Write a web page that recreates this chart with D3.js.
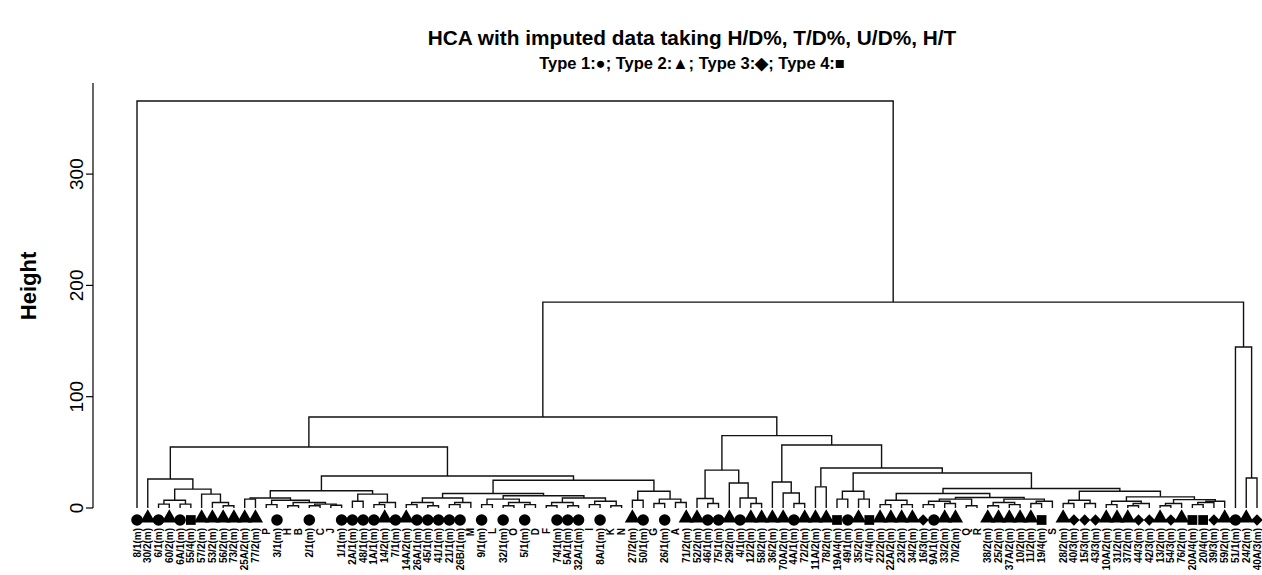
<!DOCTYPE html>
<html>
<head>
<meta charset="utf-8">
<script src="https://cdn.jsdelivr.net/npm/d3@7"></script>
<style>
  body { margin: 0; background: #fff; }
  svg { display: block; }
</style>
</head>
<body>
<svg></svg>
<script>
// leaf labels, left to right
const labels = [
  "8/1(m)", "30/2(m)", "6/1(m)", "60/2(m)", "6A/1(m)", "55/4(m)", "57/2(m)", "53/2(m)", "56/2(m)", "73/2(m)",
  "25A/2(m)", "77/2(m)", "P", "3/1(m)", "H", "B", "2/1(m)", "C", "J", "1/1(m)",
  "2A/1(m)", "48/1(m)", "1A/1(m)", "14/2(m)", "7/1(m)", "14A/2(m)", "26A/1(m)", "45/1(m)", "41/1(m)", "21/1(m)",
  "26B/1(m)", "M", "9/1(m)", "L", "32/1(m)", "O", "5/1(m)", "D", "F", "74/1(m)",
  "5A/1(m)", "32A/1(m)", "I", "8A/1(m)", "K", "N", "27/2(m)", "50/1(m)", "G", "26/1(m)",
  "A", "71/2(m)", "52/2(m)", "46/1(m)", "75/1(m)", "29/2(m)", "4/1(m)", "12/2(m)", "58/2(m)", "36/2(m)",
  "70A/2(m)", "4A/1(m)", "72/2(m)", "11A/2(m)", "78/2(m)", "19A/4(m)", "49/1(m)", "35/2(m)", "47/4(m)", "22/2(m)",
  "22A/2(m)", "23/2(m)", "34/2(m)", "16/3(m)", "9A/1(m)", "33/2(m)", "70/2(m)", "Q", "R", "38/2(m)",
  "25/2(m)", "37A/2(m)", "10/2(m)", "11/2(m)", "19/4(m)", "S", "28/2(m)", "40/3(m)", "15/3(m)", "43/3(m)",
  "10A/2(m)", "31/2(m)", "37/2(m)", "44/3(m)", "42/3(m)", "13/2(m)", "54/3(m)", "76/2(m)", "20A/4(m)", "20/4(m)",
  "39/3(m)", "59/2(m)", "51/1(m)", "24/2(m)", "40A/3(m)"
];

// merges: [left, right, height]; numbers are leaf positions (1-based)
const clA = [2, [[[3, 4, 3.5], [5, 6, 3.5], 7], [7, [8, [9, 10, 2], 5], 12.5], 17], 26];
const clB = [
  [[11, 12, 8], [[13, 14, 3], [[15, 16, 2], [[17, 18, 2], [19, 20, 2.5], 3.5], 5], 7], 9],
  [[21, 22, 6], [[23, 24, 3], 25, 5], 12.5],
  15.5
];
const clP = [[[26, 27, 3], [28, 29, 2], 5], [[30, 31, 3], 32, 5], 9];
const clQ = [[[33, 34, 3], [[35, 36, 2], [37, 38, 3], 5], 8], [[[39, 40, 2], [41, 42, 2], 5], [[43, 44, 3], [45, 46, 2], 6], 9], 11];
const clC = [[47, 48, 7], [[49, 50, 4], [51, 52, 5], 8], 15];
const clLeft = [clA, [clB, [[clP, clQ, 13], clC, 25], 28.8], 54.8];

const clD = [[53, [54, 55, 4], 8.5], [56, [57, [58, 59, 4], 9], 22.5], 34];
const clE = [60, [61, [62, 63, 4], 13.5], 23.4];
const clF = [[66, 67, 8], [68, 69, 8], 15];
const clG = [[[70, 71, 3], [72, 73, 3], 7],
  [[[[74, 75, 3], [76, 77, 4], 6], [78, 79, 2], 8], [[[80, 81, 2], [82, 83, 3], 5], [[84, 85, 4], 86, 6], 8], 9.5], 13];
const clH = [[[87, 88, 4], [89, 90, 4], 7],
  [[[91, 92, 3], [[93, 94, 2], 95, 4], 6], [[[96, 97, 2], 98, 4], [[[99, 100, 3], 101, 5], 102, 6], 7.5], 10], 15];
const clRight = [clD, [clE, [[64, 65, 19], [clF, [clG, clH, 17.5], 31.4], 36], 56.6], 65];

const clFar = [103, [104, 105, 27], 144.6];
const tree = [1, [[clLeft, clRight, 81.8], clFar, 185], 365.7];

const yTicks = [0, 100, 200, 300];

// type from the "/n" in the label, letters have none
const typeOf = (lab) => { const m = lab.match(/\/(\d)/); return m ? +m[1] : 0; };

const W = 1262, H = 575;
const svg = d3.select("svg").attr("width", W).attr("height", H)
  .style("font-family", "'Liberation Sans', Arial, sans-serif");

const x = d3.scalePoint().domain(d3.range(1, labels.length + 1)).range([137, 1257]);
const y = d3.scaleLinear().domain([0, 300]).range([508, 174.1]);

const root = d3.hierarchy(tree, d => Array.isArray(d) ? d.slice(0, 2) : null);
root.eachAfter(n => {
  if (n.children) {
    n.h = n.data[2];
    n.x = d3.mean(n.children, c => c.x);
  } else {
    n.h = 0;
    n.x = x(n.data);
  }
});

// branches
svg.append("g")
  .attr("fill", "none")
  .attr("stroke", "#111")
  .attr("stroke-width", 1.4)
  .selectAll("path")
  .data(root.descendants().filter(n => n.children))
  .join("path")
  .attr("d", n => {
    const [l, r] = n.children;
    return `M${l.x},${y(l.h)}V${y(n.h)}H${r.x}V${y(r.h)}`;
  });

// symbols
const shapes = { 1: d3.symbolCircle, 2: d3.symbolTriangle, 3: d3.symbolSquare, 4: d3.symbolSquare };
const sizes = { 1: 105, 2: 100, 3: 64, 4: 95 };
const leaves = labels.map((lab, i) => ({ lab, i: i + 1, t: typeOf(lab) }));
svg.append("g")
  .selectAll("path")
  .data(leaves.filter(d => d.t > 0))
  .join("path")
  .attr("transform", d => `translate(${x(d.i)},${d.t === 2 ? 518 : 520})` + (d.t === 3 ? " rotate(45)" : ""))
  .attr("d", d => d3.symbol(shapes[d.t], sizes[d.t])())
  .attr("fill", "#000");

// leaf labels
svg.append("g")
  .selectAll("text")
  .data(leaves)
  .join("text")
  .attr("transform", d => `translate(${x(d.i) + 3.5},528) rotate(-90)`)
  .attr("text-anchor", "end")
  .attr("font-size", 10)
  .attr("font-weight", "bold")
  .text(d => d.lab);

// y axis
const axis = svg.append("g").attr("transform", "translate(93,0)");
axis.append("line")
  .attr("y1", y(0)).attr("y2", 83)
  .attr("stroke", "#000").attr("stroke-width", 1.2);
axis.selectAll("line.tk")
  .data(yTicks)
  .join("line")
  .attr("class", "tk")
  .attr("x1", -7).attr("x2", 0)
  .attr("y1", d => y(d)).attr("y2", d => y(d))
  .attr("stroke", "#000").attr("stroke-width", 1.2);
axis.selectAll("text")
  .data(yTicks)
  .join("text")
  .attr("transform", d => `translate(-10,${y(d)}) rotate(-90)`)
  .attr("text-anchor", "middle")
  .attr("font-size", 19)
  .text(d => d);

svg.append("text")
  .attr("transform", "translate(36,286) rotate(-90)")
  .attr("text-anchor", "middle")
  .attr("font-size", 22)
  .attr("font-weight", "bold")
  .text("Height");

// titles
svg.append("text")
  .attr("x", 692).attr("y", 45)
  .attr("text-anchor", "middle")
  .attr("font-size", 20.8)
  .attr("font-weight", "bold")
  .text("HCA with imputed data taking H/D%, T/D%, U/D%, H/T");

svg.append("text")
  .attr("x", 692).attr("y", 69)
  .attr("text-anchor", "middle")
  .attr("font-size", 16.5)
  .attr("font-weight", "bold")
  .text("Type 1:\u25CF; Type 2:\u25B2; Type 3:\u25C6; Type 4:\u25A0");
</script>
</body>
</html>
